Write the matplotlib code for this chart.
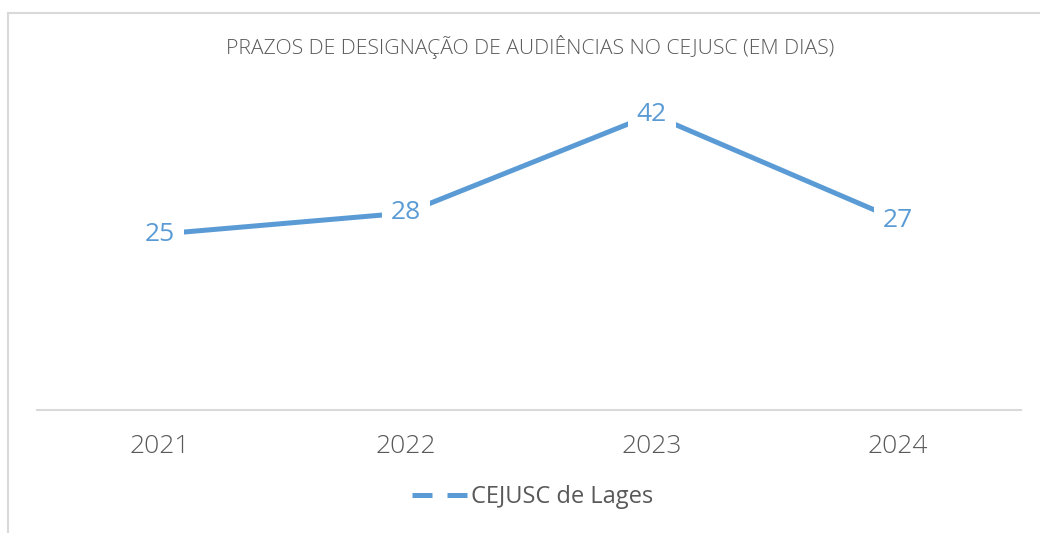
import numpy as np
import matplotlib.pyplot as plt
from matplotlib.lines import Line2D

years = ['2021', '2022', '2023', '2024']
prazos = [25, 28, 42, 27]
series_name = 'CEJUSC de Lages'
title = 'PRAZOS DE DESIGNAÇÃO DE AUDIÊNCIAS NO CEJUSC (EM DIAS)'

blue = '#5B9BD5'
grey_text = '#595959'
grey_line = '#D9D9D9'

plt.rcParams['font.family'] = ['Open Sans', 'DejaVu Sans']

fig = plt.figure(figsize=(10.4, 5.33), dpi=100)
ax = fig.add_axes([0.0356, 0.2308, 0.946, 0.660])

x = np.arange(len(years)) + 0.5
ax.plot(x, prazos, color=blue, lw=3.6, solid_capstyle='butt', label=series_name)

for xi, v in zip(x, prazos):
    ax.text(xi, v, str(v), ha='center', va='center', fontsize=19, color=blue,
            bbox=dict(boxstyle='square,pad=0.35', fc='white', ec='none'), zorder=5)

ax.set_xlim(0, len(years))
ax.set_ylim(0, 50)
ax.set_xticks(x)
ax.set_xticklabels(years, fontsize=19, color=grey_text, fontweight='light')
ax.tick_params(axis='x', length=0, pad=17)
ax.set_yticks([])
for side in ['top', 'right', 'left']:
    ax.spines[side].set_visible(False)
ax.spines['bottom'].set_color(grey_line)
ax.spines['bottom'].set_linewidth(1.5)

fig.text(0.51, 0.912, title, ha='center', va='center', fontsize=15.2,
         color=grey_text, fontweight='light')

# legend with dashed sample like the original
handle = Line2D([], [], color=blue, lw=3.6, linestyle=(0, (4.0, 3.0)))
fig.legend([handle], [series_name], loc='center', bbox_to_anchor=(0.512, 0.067),
           frameon=False, fontsize=17, handlelength=2.4, handletextpad=0.1,
           labelcolor=grey_text)

# chart border (partly cropped in the original)
fig.add_artist(Line2D([8 / 1040, 8 / 1040], [0, 1 - 13 / 533], color=grey_line, lw=1.5,
                      transform=fig.transFigure))
fig.add_artist(Line2D([8 / 1040, 1], [1 - 13 / 533, 1 - 13 / 533], color=grey_line, lw=1.5,
                      transform=fig.transFigure))

plt.savefig('out.png', dpi=100)
